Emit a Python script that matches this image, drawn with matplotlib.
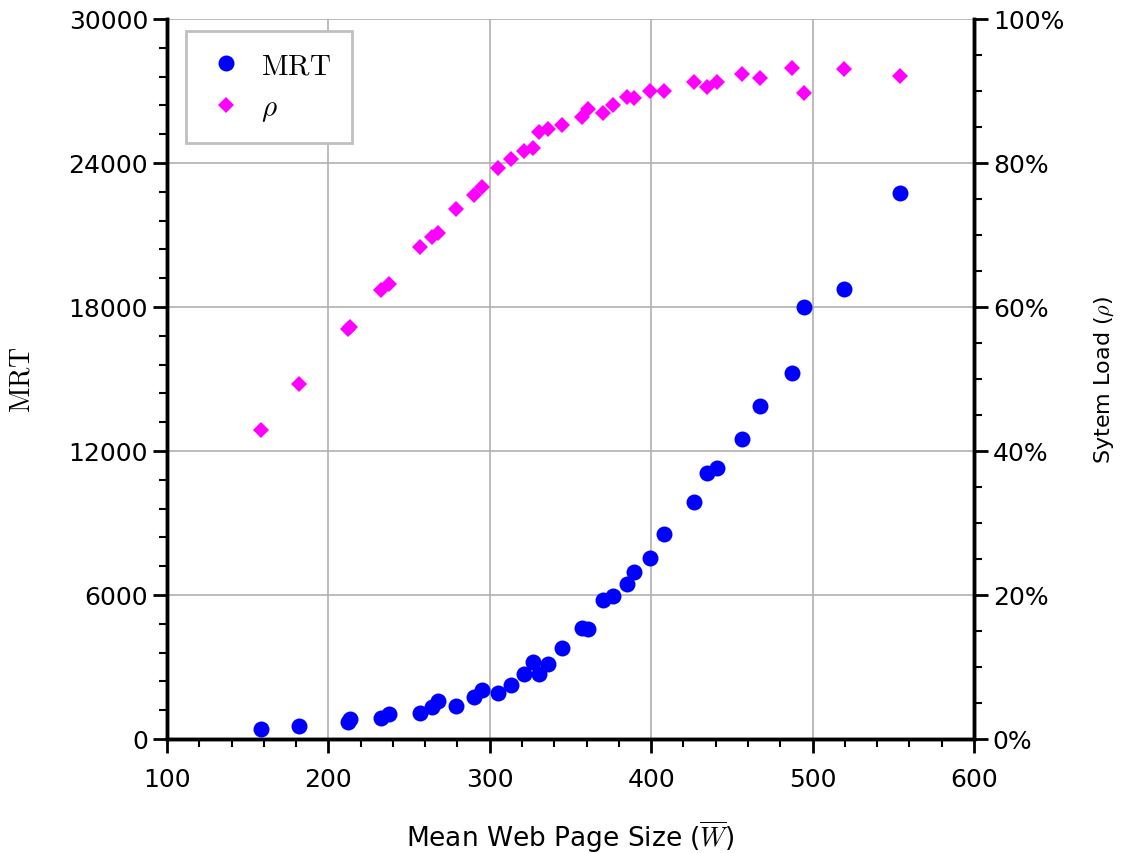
import matplotlib
matplotlib.use("Agg")
import matplotlib.pyplot as plt
from matplotlib.ticker import MultipleLocator, PercentFormatter

plt.rcParams["mathtext.fontset"] = "cm"
plt.rcParams["font.family"] = "DejaVu Sans"

# Mean web page size (shared by both series)
taille_page = [158.2, 181.8, 212.1, 213.4, 232.6, 237.5, 256.8, 264.2, 267.9,
               279.0, 290.2, 295.2, 305.0, 313.1, 321.2, 326.8, 330.5, 336.0,
               344.7, 357.1, 360.8, 370.1, 376.3, 385.0, 389.3, 399.3, 407.9,
               426.5, 434.6, 440.8, 456.3, 467.4, 487.2, 494.7, 519.5, 554.2]

# Mean response time
mrt = [420, 540, 710, 830, 880, 1040, 1080, 1330, 1580,
       1380, 1750, 2040, 1920, 2250, 2710, 3210, 2710, 3130,
       3790, 4630, 4580, 5790, 5960, 6460, 6960, 7540, 8540,
       9880, 11080, 11290, 12500, 13880, 15250, 18000, 18750, 22750]

# System load in percent
charge = [42.9, 49.3, 56.9, 57.2, 62.4, 63.2, 68.3, 69.7, 70.3,
          73.6, 75.6, 76.6, 79.3, 80.6, 81.7, 82.1, 84.3, 84.7,
          85.3, 86.4, 87.5, 87.0, 88.1, 89.2, 89.0, 90.0, 90.0,
          91.2, 90.5, 91.3, 92.3, 91.8, 93.2, 89.7, 93.0, 92.1]

fig = plt.figure(figsize=(11.22, 8.54), dpi=100)
ax = fig.add_axes([0.1488, 0.1335, 0.7193, 0.8431])
ax2 = ax.twinx()

ax.plot(taille_page, mrt, linestyle="none", marker="o", markersize=11.5,
        color="#0000ff", markeredgewidth=0, label=r"$\mathrm{MRT}$", zorder=3)
ax2.plot(taille_page, charge, linestyle="none", marker="D", markersize=8,
         color="#ff00ff", markeredgewidth=0, label=r"$\rho$", zorder=3)

ax.set_xlim(100, 600)
ax.set_ylim(0, 30000)
ax2.set_ylim(0, 100)

ax.xaxis.set_major_locator(MultipleLocator(100))
ax.xaxis.set_minor_locator(MultipleLocator(20))
ax.yaxis.set_major_locator(MultipleLocator(6000))
ax.yaxis.set_minor_locator(MultipleLocator(1200))
ax2.yaxis.set_major_locator(MultipleLocator(20))
ax2.yaxis.set_minor_locator(MultipleLocator(5))
ax2.yaxis.set_major_formatter(PercentFormatter(decimals=0))

ax.grid(True, which="major", color="#b0b0b0", linewidth=1.2)
ax.set_axisbelow(True)

for a in (ax, ax2):
    a.spines["top"].set_visible(False)
    for s in ("left", "right", "bottom"):
        a.spines[s].set_linewidth(2.5)
    a.tick_params(which="major", direction="out", length=10, width=2,
                  labelsize=18)
    a.tick_params(which="minor", direction="out", length=6, width=1.5)
ax.tick_params(axis="x", pad=10)

ax.set_xlabel(r"Mean Web Page Size ($\overline{W}$)", fontsize=19,
              labelpad=20)
ax.set_ylabel(r"$\mathrm{MRT}$", fontsize=20, labelpad=24)
ax2.set_ylabel(r"Sytem Load ($\rho$)", fontsize=16, labelpad=20)

h1, l1 = ax.get_legend_handles_labels()
h2, l2 = ax2.get_legend_handles_labels()
leg = ax2.legend(h1 + h2, l1 + l2, loc="upper left",
                 bbox_to_anchor=(0.023, 0.983), fontsize=21,
                 fancybox=False, framealpha=1, borderpad=0.7,
                 handlelength=1.4, handletextpad=0.5, labelspacing=0.45,
                 borderaxespad=0)
leg.get_frame().set_edgecolor("#c0c0c0")
leg.get_frame().set_linewidth(2)

fig.savefig("out.png", dpi=100)
